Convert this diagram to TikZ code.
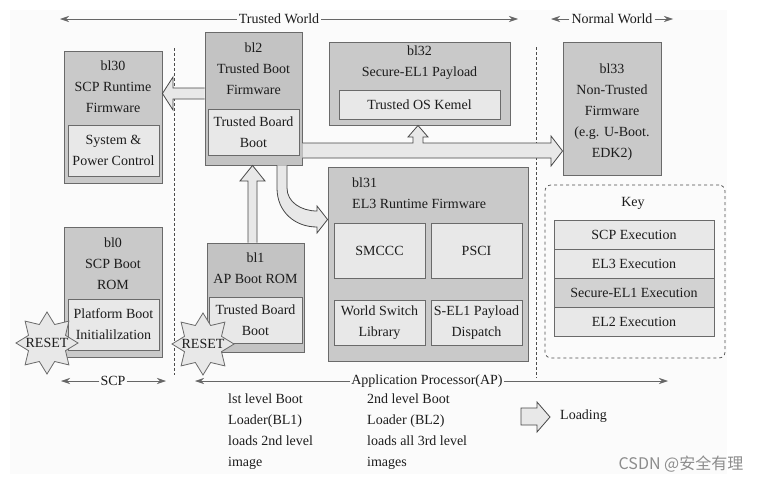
\documentclass[tikz,border=0pt]{standalone}
\usepackage{fontspec}
\setmainfont{Liberation Serif}
\newfontfamily\cjkfont{Noto Sans CJK SC}
\usetikzlibrary{arrows.meta,shapes.geometric,calc}
\definecolor{boxc}{HTML}{C9C9C9}
\definecolor{boxd}{HTML}{C3C3C3}
\definecolor{innc}{HTML}{E8E8E8}
\definecolor{bordc}{HTML}{6A6A6A}
\definecolor{txtc}{HTML}{1C1C1C}
\definecolor{keyd}{HTML}{D2D2D2}
\definecolor{bgc}{HTML}{FBFBFB}
\begin{document}
\begin{tikzpicture}[x=1pt,y=-1pt,
  every node/.style={text=txtc},
  box/.style={draw=bordc, fill=boxc, line width=0.9pt, inner sep=0pt},
  inbox/.style={draw=bordc, fill=innc, line width=0.9pt, inner sep=0pt,
    font=\fontsize{14}{21}\selectfont, align=center},
  lbl/.style={font=\fontsize{14}{21}\selectfont, align=center, inner sep=0pt},
  blockarrow/.style={draw=black!72, fill=innc, line width=0.8pt, line join=miter},
  rangearrow/.style={draw=black!60, line width=0.6pt, -{Stealth[length=9pt,width=6pt]}},
  divider/.style={draw=black!70, line width=0.6pt, dash pattern=on 3pt off 2pt},
  resetstar/.style={star, star points=8, star point ratio=1.55, minimum size=62pt,
    draw=bordc, fill=innc, line width=0.8pt, inner sep=0pt}
]
\useasboundingbox (0,0) rectangle (766,482);
\fill[white] (0,0) rectangle (766,482);
\fill[bgc] (10,10) rectangle (727,474);

% dividers
\coordinate (d1t) at (174,48); \coordinate (d1b) at (174,375);
\coordinate (d2t) at (536,47); \coordinate (d2b) at (536,378);
\draw[divider] (d1t) -- (d1b);
\draw[divider] (d2t) -- (d2b);

% range labels
\node[lbl] (tw) at (279,19) {Trusted World};
\coordinate (twl) at (60,19); \coordinate (twr) at (518,19);
\draw[rangearrow] (tw.west) ++(-2,0) -- (twl);
\draw[rangearrow] (tw.east) ++(2,0) -- (twr);
\node[lbl] (nw) at (612,19) {Normal World};
\coordinate (nwl) at (551,19); \coordinate (nwr) at (673,19);
\draw[rangearrow] (nw.west) ++(-2,0) -- (nwl);
\draw[rangearrow] (nw.east) ++(2,0) -- (nwr);
\node[lbl] (scp) at (113,381) {SCP};
\coordinate (scpl) at (61,381); \coordinate (scpr) at (166,381);
\draw[rangearrow] (scp.west) ++(-1,0) -- (scpl);
\draw[rangearrow] (scp.east) ++(1,0) -- (scpr);
\node[lbl] (ap) at (427,381) {Application Processor(AP)};
\coordinate (apl) at (195,381); \coordinate (apr) at (668,381);
\draw[rangearrow] (ap.west) ++(-1,0) -- (apl);
\draw[rangearrow] (ap.east) ++(1,0) -- (apr);

% bl30
\node[box, minimum width=98pt, minimum height=132pt] (bl30) at (113,117) {};
\node[lbl] (bl30t) at (113,87) {bl30\\SCP Runtime\\Firmware};
\node[inbox, minimum width=91pt, minimum height=51pt] (sys) at (113.5,150.5) {System \&\\Power Control};

% bl2
\node[box, fill=boxd, minimum width=97pt, minimum height=133pt] (bl2) at (253.5,98.5) {};
\node[lbl] (bl2t) at (253.5,69) {bl2\\Trusted Boot\\Firmware};
\node[inbox, minimum width=91pt, minimum height=46pt] (tbb2) at (253.5,132) {Trusted Board\\Boot};

% bl32
\node[box, minimum width=181pt, minimum height=83pt] (bl32) at (419.5,83.5) {};
\node[lbl] (bl32t) at (419.5,63) {bl32\\Secure-EL1 Payload};
\node[inbox, minimum width=161pt, minimum height=29pt] (tos) at (419.5,104.5) {Trusted OS Kemel};

% bl33
\node[box, minimum width=98pt, minimum height=133pt] (bl33) at (612,108.5) {};
\node[lbl] (bl33t) at (612,112) {bl33\\Non-Trusted\\Firmware\\(e.g. U-Boot.\\EDK2)};

% bl31
\node[box, minimum width=200pt, minimum height=194pt] (bl31) at (428,264) {};
\node[lbl, align=left, anchor=west] (bl31t) at (352,193.5) {bl31\\EL3 Runtime Firmware};
\node[inbox, minimum width=91pt, minimum height=55pt] (smc) at (379.5,250.5) {SMCCC};
\node[inbox, minimum width=91pt, minimum height=55pt] (psci) at (476.5,250.5) {PSCI};
\node[inbox, minimum width=91pt, minimum height=45pt] (wsl) at (379.5,322.5) {World Switch\\Library};
\node[inbox, minimum width=91pt, minimum height=45pt] (sel1) at (476.5,322.5) {S-EL1 Payload\\Dispatch};

% bl0
\node[box, minimum width=98pt, minimum height=130pt] (bl0) at (113,292) {};
\node[lbl] (bl0t) at (113,264) {bl0\\SCP Boot\\ROM};
\node[inbox, minimum width=91pt, minimum height=51pt] (pbi) at (113.5,324.5) {Platform Boot\\Initialilzation};

% bl1
\node[box, fill=boxd, minimum width=97pt, minimum height=109pt] (bl1) at (255.5,297.5) {};
\node[lbl] (bl1t) at (255.5,268.5) {bl1\\AP Boot ROM};
\node[inbox, minimum width=93pt, minimum height=46pt] (tbb1) at (255.5,320) {Trusted Board\\Boot};

% key
\node[draw=black!70, dashed, rounded corners=6pt, minimum width=180pt, minimum height=173pt, line width=0.7pt, inner sep=0pt] (key) at (635,271.5) {};
\node[lbl] (keyt) at (633,203) {Key};
\node[inbox, minimum width=160pt, minimum height=29pt] (k1) at (634,234.5) {SCP Execution};
\node[inbox, minimum width=160pt, minimum height=29pt] (k2) at (634,263.5) {EL3 Execution};
\node[inbox, fill=keyd, minimum width=160pt, minimum height=29pt] (k3) at (634,292.5) {Secure-EL1 Execution};
\node[inbox, minimum width=160pt, minimum height=29pt] (k4) at (634,321.5) {EL2 Execution};

% loading arrows
% bl2 -> bl30
\draw[blockarrow] (bl2.west |- 0,88) -- (173,88) -- (173,77) -- (bl30.east |- 0,93.5) -- (173,110) -- (173,99) -- (bl2.west |- 0,99);
% bl1 -> bl2
\draw[blockarrow] (248,0 |- bl1.north) -- (248,181) -- (240,181) -- (252.5,0 |- bl2.south) -- (265,181) -- (257,181) -- (257,0 |- bl1.north);
% bl2 -> bl33 with branch to bl32
\draw[blockarrow] (bl2.east |- 0,143) -- (413,143) -- (413,137) -- (408,137) -- (418,0 |- bl32.south) -- (428,137) -- (423,137) -- (423,143) -- (551,143) -- (551,136) -- (bl33.west |- 0,151) -- (551,166) -- (551,158) -- (bl2.east |- 0,158);
% bl2 -> bl31 curved
\draw[blockarrow] (277,0 |- bl2.south) -- (277,188) .. controls (277,212) and (295,227) .. (317,227) -- (317,233) -- (bl31.west |- 0,219.5) -- (317,206) -- (317,211) .. controls (301,211) and (287,202) .. (287,188) -- (287,0 |- bl2.south);

% reset stars
\node[resetstar] (rs0) at (47,343) {};
\node[lbl] (rs0t) at (rs0) {RESET};
\node[resetstar] (rs1) at (203,344) {};
\node[lbl] (rs1t) at (rs1) {RESET};

% legend
\node[lbl, align=left, anchor=west] (c1) at (228,431.5) {lst level Boot\\Loader(BL1)\\loads 2nd level\\image};
\node[lbl, align=left, anchor=west] (c2) at (367,431.5) {2nd level Boot\\Loader (BL2)\\loads all 3rd level\\images};
\draw[blockarrow] (521,408) -- (537,408) -- (537,402) -- (550,417) -- (537,432) -- (537,425) -- (521,425) -- cycle;
\node[lbl, anchor=west] (loadt) at (560,416) {Loading};

% watermark
\node[font=\cjkfont\fontsize{16}{18}\selectfont, text=black!45, inner sep=0pt] (wm) at (681,464) {CSDN @安全有理};
\end{tikzpicture}
\end{document}
